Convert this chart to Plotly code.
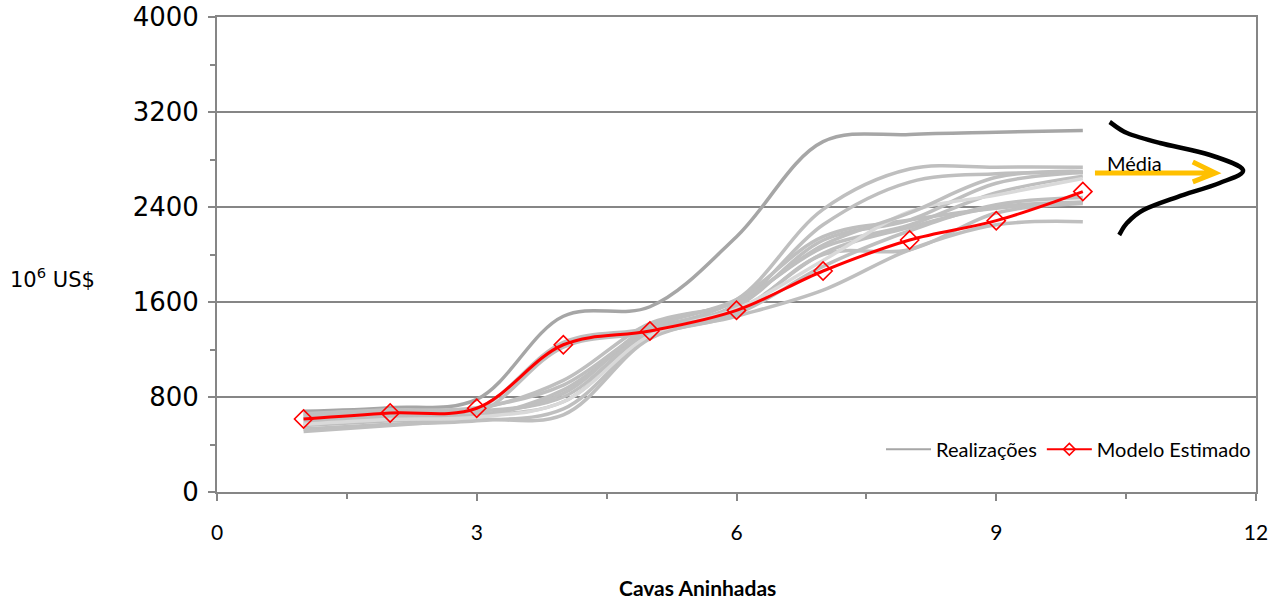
import plotly.graph_objects as go

# ---- data ----
cavas = [1, 2, 3, 4, 5, 6, 7, 8, 9, 10]

realizacoes = [
    [680, 710, 780, 1480, 1560, 2150, 2950, 3010, 3030, 3045],
    [650, 690, 700, 1260, 1380, 1620, 2380, 2720, 2735, 2735],
    [600, 640, 660, 1220, 1350, 1580, 2250, 2610, 2680, 2690],
    [560, 600, 630, 860, 1360, 1560, 2120, 2290, 2600, 2690],
    [620, 660, 650, 830, 1400, 1600, 2060, 2250, 2520, 2660],
    [580, 620, 640, 760, 1330, 1520, 2010, 2230, 2400, 2440],
    [530, 570, 600, 700, 1300, 1500, 2000, 2040, 2350, 2430],
    [660, 690, 710, 900, 1380, 1620, 2150, 2290, 2390, 2440],
    [510, 560, 610, 650, 1290, 1480, 1700, 2040, 2250, 2276],
    [570, 610, 630, 760, 1320, 1540, 1950, 2360, 2500, 2640],
    [620, 660, 680, 800, 1350, 1500, 1900, 2200, 2420, 2480],
    [640, 680, 700, 940, 1420, 1600, 2080, 2350, 2650, 2700],
]
real_colors = ["#a6a6a6"] + ["#bfbfbf"] * 8 + ["#d9d9d9"] + ["#bfbfbf"] * 2

modelo = [615, 665, 705, 1240, 1356, 1530, 1861, 2122, 2285, 2530]

x_ticks = [0, 3, 6, 9, 12]
y_ticks = [0, 800, 1600, 2400, 3200, 4000]

# decorative normal curve (sideways) next to the end of the lines
curve_x = [10.31, 10.51, 10.89, 11.47, 11.85, 11.58, 11.09, 10.70, 10.51, 10.42]
curve_y = [3116, 3023, 2939, 2838, 2712, 2602, 2484, 2375, 2265, 2164]

fig = go.Figure()

for vals, col in zip(realizacoes, real_colors):
    fig.add_trace(go.Scatter(
        x=cavas, y=vals, mode="lines",
        line=dict(color=col, width=3.5, shape="spline", smoothing=1),
        name="Realizações", legendgroup="real",
        showlegend=False, hoverinfo="skip",
    ))

fig.add_trace(go.Scatter(
    x=cavas, y=modelo, mode="lines+markers",
    line=dict(color="#ff0000", width=3, shape="spline", smoothing=1),
    marker=dict(symbol="diamond-open", size=14, color="#ff0000",
                line=dict(width=1.6, color="#ff0000")),
    name="Modelo Estimado", legendgroup="modelo", showlegend=False,
))

# legend entries (thin line samples as in the reference)
fig.add_trace(go.Scatter(
    x=[None], y=[None], mode="lines",
    line=dict(color="#a6a6a6", width=2),
    name="Realizações", legendgroup="real", showlegend=True,
))
fig.add_trace(go.Scatter(
    x=[None], y=[None], mode="lines+markers",
    line=dict(color="#ff0000", width=2),
    marker=dict(symbol="diamond-open", size=9, color="#ff0000",
                line=dict(width=1.6, color="#ff0000")),
    name="Modelo Estimado", legendgroup="modelo", showlegend=True,
))


# Catmull-Rom -> cubic bezier path for the decorative curve
def smooth_path(xs, ys):
    pts = list(zip(xs, ys))
    d = f"M {pts[0][0]},{pts[0][1]}"
    for i in range(len(pts) - 1):
        p0 = pts[i - 1] if i > 0 else pts[i]
        p1 = pts[i]
        p2 = pts[i + 1]
        p3 = pts[i + 2] if i + 2 < len(pts) else pts[i + 1]
        c1 = (p1[0] + (p2[0] - p0[0]) / 6, p1[1] + (p2[1] - p0[1]) / 6)
        c2 = (p2[0] - (p3[0] - p1[0]) / 6, p2[1] - (p3[1] - p1[1]) / 6)
        d += f" C {c1[0]},{c1[1]} {c2[0]},{c2[1]} {p2[0]},{p2[1]}"
    return d


fig.add_shape(type="path", xref="x", yref="y",
              path=smooth_path(curve_x, curve_y),
              line=dict(color="black", width=4.5))

# orange arrow
fig.add_shape(type="path", xref="x", yref="y",
              path="M 10.14,2686 L 11.53,2686 M 11.27,2779 L 11.53,2686 L 11.27,2611",
              line=dict(color="#ffc000", width=5))

fig.add_annotation(x=10.6, y=2770, xref="x", yref="y", text="Média",
                   showarrow=False, font=dict(family="Lato", size=20, color="black"))

fig.add_annotation(x=-0.201, y=0.4505, xref="paper", yref="paper",
                   xanchor="left", yanchor="middle",
                   text="10<sup>6</sup> US$", showarrow=False,
                   font=dict(family="DejaVu Sans", size=21, color="black"))

fig.add_annotation(x=0.462, y=-0.2, xref="paper", yref="paper",
                   text="<b>Cavas Aninhadas</b>", showarrow=False, yanchor="middle",
                   font=dict(family="Lato", size=21, color="black"))

fig.update_layout(
    width=1280, height=599,
    margin=dict(l=217, r=24, t=17, b=107, autoexpand=False),
    paper_bgcolor="white", plot_bgcolor="white",
    showlegend=True,
    legend=dict(orientation="h", x=1, xanchor="right", y=0.09, yanchor="middle",
                font=dict(family="Lato", size=20, color="black"),
                bgcolor="rgba(0,0,0,0)", itemwidth=45, traceorder="normal"),
    xaxis=dict(range=[0, 12], tickvals=x_ticks, ticktext=[str(v) for v in x_ticks],
               showgrid=False, zeroline=False, automargin=False,
               showline=True, linecolor="#868686", linewidth=2, mirror=True,
               ticks="outside", ticklen=7, tickwidth=2, tickcolor="#868686",
               minor=dict(dtick=1.5, ticks="outside", ticklen=5, tickwidth=1.5,
                          tickcolor="#868686", showgrid=False),
               ticklabelstandoff=14,
               tickfont=dict(family="Lato", size=21, color="black")),
    yaxis=dict(range=[0, 4000], tickvals=y_ticks, ticktext=[str(v) for v in y_ticks],
               showgrid=True, gridcolor="#868686", gridwidth=1.5, zeroline=False,
               automargin=False,
               showline=True, linecolor="#868686", linewidth=2, mirror=True,
               ticks="outside", ticklen=7, tickwidth=2, tickcolor="#868686",
               minor=dict(dtick=400, ticks="outside", ticklen=5, tickwidth=1.5,
                          tickcolor="#868686", showgrid=False),
               ticklabelstandoff=4,
               tickfont=dict(family="DejaVu Sans", size=26, color="black")),
)

fig.write_html("out.html")
